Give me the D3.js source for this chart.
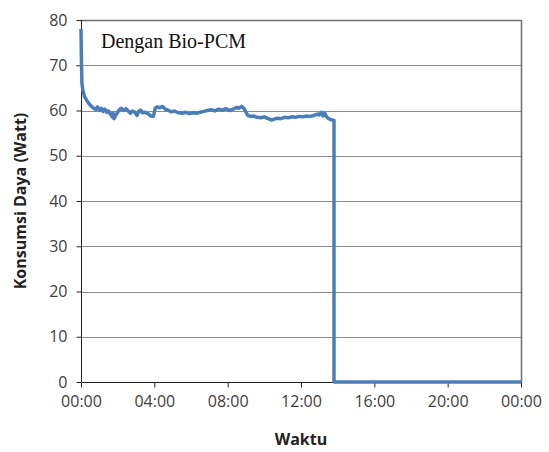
<!DOCTYPE html>
<html>
<head>
<meta charset="utf-8">
<script src="https://cdn.jsdelivr.net/npm/d3@7"></script>
<style>
  body { margin: 0; background: #fff; }
  svg { display: block; }
</style>
</head>
<body>
<div class="chart"></div>
<script>
// time in hours from start, power in Watt
const hours = [0, 0.02, 0.05, 0.1, 0.2, 0.35, 0.5, 0.65, 0.8, 0.9, 1.0, 1.1, 1.2, 1.3, 1.4, 1.5, 1.6, 1.7, 1.75, 1.8, 1.9,
  2.0, 2.1, 2.2, 2.3, 2.45, 2.6, 2.7, 2.8, 2.95, 3.05, 3.15, 3.25, 3.35, 3.5, 3.65, 3.8, 3.95,
  4.05, 4.15, 4.3, 4.45, 4.6, 4.75, 4.9, 5.1, 5.3, 5.5, 5.7, 5.9, 6.1, 6.3, 6.5, 6.7, 6.9,
  7.1, 7.3, 7.5, 7.7, 7.9, 8.1, 8.3, 8.5, 8.6, 8.75, 8.9, 9.0, 9.1, 9.25, 9.4, 9.6, 9.8,
  10.0, 10.2, 10.4, 10.55, 10.7, 10.9, 11.1, 11.3, 11.5, 11.7, 11.9, 12.1, 12.3, 12.5, 12.7,
  12.9, 13.0, 13.1, 13.2, 13.3, 13.4, 13.5, 13.6, 13.8, 13.8, 24];
const watt = [78, 72, 66, 64.5, 63, 62, 61.2, 60.6, 60.2, 60.8, 60.0, 60.5, 59.8, 60.3, 59.6, 59.9, 59.2, 58.6, 59.4, 58.2, 59.0,
  59.6, 60.2, 60.5, 60.0, 60.4, 59.8, 59.4, 59.9, 59.6, 58.9, 59.8, 60.1, 59.5, 59.6, 59.3, 58.8, 58.7,
  60.5, 60.8, 60.6, 60.9, 60.3, 60.1, 59.7, 59.9, 59.5, 59.4, 59.6, 59.3, 59.5, 59.4, 59.6, 59.8, 60.0,
  60.2, 59.9, 60.3, 60.1, 60.4, 60.0, 60.3, 60.7, 60.5, 60.9, 60.4, 59.6, 58.9, 58.7, 58.8, 58.5, 58.4,
  58.6, 58.2, 57.9, 58.1, 58.3, 58.2, 58.5, 58.4, 58.6, 58.5, 58.7, 58.6, 58.8, 58.7, 58.9,
  59.2, 59.0, 59.6, 58.8, 59.4, 58.6, 58.2, 58.0, 57.8, 0, 0];

const xTicks = [0, 4, 8, 12, 16, 20, 24];
const xTickLabels = ['00:00', '04:00', '08:00', '12:00', '16:00', '20:00', '00:00'];
const yTicks = [0, 10, 20, 30, 40, 50, 60, 70, 80];

const margin = { top: 20, right: 28, bottom: 70, left: 81 };
const width = 549 - margin.left - margin.right;
const height = 452 - margin.top - margin.bottom;

const svg = d3.select('.chart')
  .append('svg')
  .attr('width', 549)
  .attr('height', 452)
  .append('g')
  .attr('transform', `translate(${margin.left},${margin.top})`);

const x = d3.scaleLinear().domain([0, 24]).range([0, width]);
const y = d3.scaleLinear().domain([0, 80]).range([height, 0]);

// gridlines (the top one doubles as the plot border)
svg.append('g')
  .selectAll('line')
  .data(yTicks.filter(t => t > 0))
  .join('line')
  .attr('x1', 0)
  .attr('x2', width)
  .attr('y1', d => Math.round(y(d)) + 0.5)
  .attr('y2', d => Math.round(y(d)) + 0.5)
  .attr('stroke', d => d == 80 ? '#6e6e6e' : '#8c8c8c')
  .attr('stroke-width', d => d == 80 ? 1.5 : 1);

// plot area border, right side
svg.append('line')
  .attr('x1', width + 0.5).attr('x2', width + 0.5)
  .attr('y1', 0).attr('y2', height)
  .attr('stroke', '#6e6e6e')
  .attr('stroke-width', 1.5);

const fontAxis = '"Open Sans", sans-serif';

const xAxis = svg.append('g')
  .attr('transform', `translate(0,${Math.round(height) + 0.5})`)
  .call(d3.axisBottom(x).tickValues(xTicks).tickFormat((d, i) => xTickLabels[i]).tickSize(5).tickPadding(8));
xAxis.select('.domain').attr('stroke', '#222').attr('d', `M0.5,0H${width + 0.5}`);
xAxis.selectAll('.tick line').attr('stroke', '#222');
xAxis.selectAll('text').style('font-family', fontAxis).style('font-size', '16px').attr('fill', '#404040');

const yAxis = svg.append('g')
  .attr('transform', 'translate(0.5,0)')
  .call(d3.axisLeft(y).tickValues(yTicks).tickSize(5).tickPadding(9));
yAxis.select('.domain').attr('stroke', '#222').attr('d', `M0,0V${height}`);
yAxis.selectAll('.tick line').attr('stroke', '#222');
yAxis.selectAll('text').style('font-family', fontAxis).style('font-size', '16px').attr('fill', '#404040');

// data line
const pts = hours.map((h, i) => ({ h: h, w: watt[i] }));
svg.append('path')
  .datum(pts)
  .attr('fill', 'none')
  .attr('stroke', '#4a7ebb')
  .attr('stroke-width', 3.5)
  .attr('stroke-linejoin', 'round')
  .attr('d', d3.line().x(d => x(d.h)).y(d => y(d.w)));

// labels
svg.append('text')
  .attr('x', 20)
  .attr('y', 28)
  .style('font-family', '"Liberation Serif", "Times New Roman", serif')
  .style('font-size', '20px')
  .attr('fill', '#111')
  .text('Dengan Bio-PCM');

svg.append('text')
  .attr('text-anchor', 'middle')
  .attr('x', width / 2)
  .attr('y', height + 63)
  .style('font-family', fontAxis)
  .style('font-weight', 'bold')
  .style('font-size', '16px')
  .attr('fill', '#222')
  .text('Waktu');

svg.append('text')
  .attr('text-anchor', 'middle')
  .attr('transform', `translate(${-55},${height / 2}) rotate(-90)`)
  .style('font-family', fontAxis)
  .style('font-weight', 'bold')
  .style('font-size', '16px')
  .attr('fill', '#222')
  .text('Konsumsi Daya (Watt)');
</script>
</body>
</html>
